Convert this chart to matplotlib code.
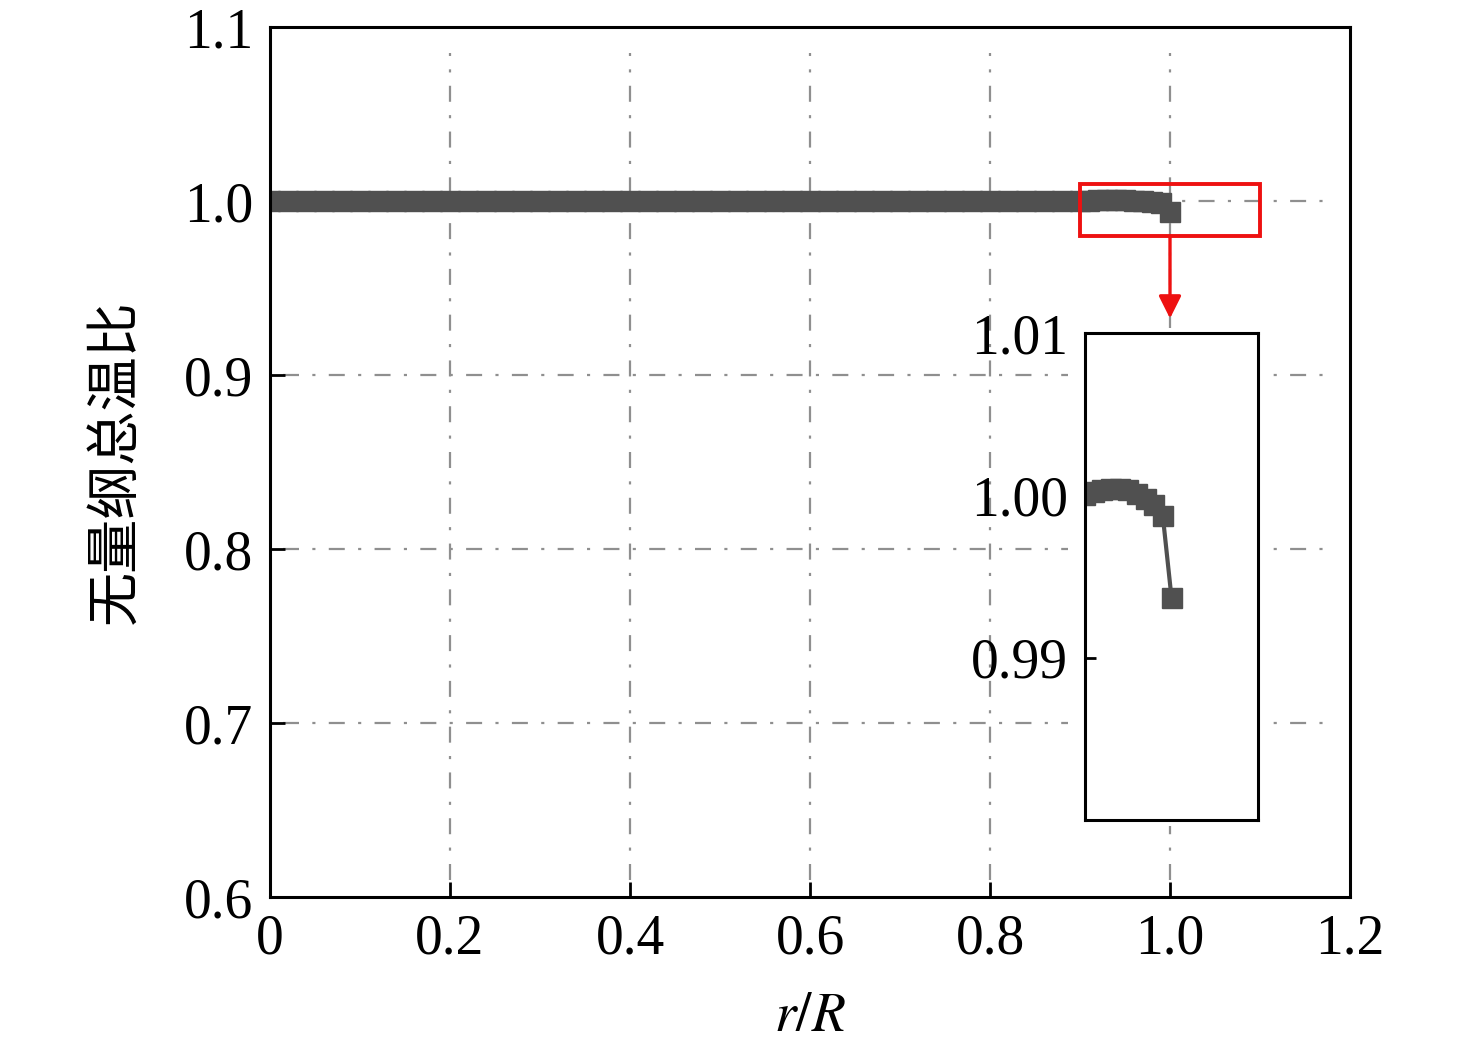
import matplotlib
matplotlib.use("Agg")
import matplotlib.pyplot as plt
from matplotlib.patches import Rectangle, FancyArrowPatch

plt.rcParams['font.family'] = ['Liberation Serif', 'DejaVu Serif']
plt.rcParams['mathtext.fontset'] = 'stix'

# ---- data ----
r_flat = [0.00, 0.02, 0.04, 0.06, 0.08, 0.10, 0.12, 0.14, 0.16, 0.18,
          0.20, 0.22, 0.24, 0.26, 0.28, 0.30, 0.32, 0.34, 0.36, 0.38,
          0.40, 0.42, 0.44, 0.46, 0.48, 0.50, 0.52, 0.54, 0.56, 0.58,
          0.60, 0.62, 0.64, 0.66, 0.68, 0.70, 0.72, 0.74, 0.76, 0.78,
          0.80, 0.82, 0.84, 0.86, 0.88]
t_flat = [1.0000] * len(r_flat)
r_wall = [0.90, 0.91, 0.92, 0.93, 0.94, 0.95, 0.96, 0.97, 0.98, 0.99, 1.00]
t_wall = [1.0000, 1.0002, 1.0003, 1.0004, 1.0004, 1.0003, 1.0001, 0.9998,
          0.9994, 0.9987, 0.9937]
r_all = r_flat + r_wall
t_all = t_flat + t_wall

x_ticks = [0, 0.2, 0.4, 0.6, 0.8, 1.0, 1.2]
x_labels = ['0', '0.2', '0.4', '0.6', '0.8', '1.0', '1.2']
y_ticks = [0.6, 0.7, 0.8, 0.9, 1.0, 1.1]
y_labels = ['0.6', '0.7', '0.8', '0.9', '1.0', '1.1']
inset_y_ticks = [0.99, 1.00, 1.01]
inset_y_labels = ['0.99', '1.00', '1.01']

W, H = 1476, 1051
fig = plt.figure(figsize=(W / 100, H / 100), dpi=100)
ax = fig.add_axes([270 / W, 1 - 897 / H, 1080 / W, 870 / H])

col = '#505050'
grid_col = '#8f8f8f'
grid_ls = (0, (7.2, 6.0, 1.4, 6.0))
ax.plot(r_all, t_all, color=col, lw=3, marker='s', ms=14.5, mec=col, mfc=col,
        zorder=3)

ax.set_xlim(0, 1.2)
ax.set_ylim(0.6, 1.1)
ax.set_xticks(x_ticks)
ax.set_xticklabels(x_labels)
ax.set_yticks(y_ticks)
ax.set_yticklabels(y_labels)
ax.tick_params(direction='in', length=11, width=2, labelsize=40, pad=12)
for s in ax.spines.values():
    s.set_linewidth(2.2)
    s.set_zorder(5)

for gx in [0.2, 0.4, 0.6, 0.8, 1.0]:
    ax.axvline(gx, ymin=0.02, ymax=0.97, color=grid_col, lw=1.6, ls=grid_ls, zorder=1)
for gy in [0.7, 0.8, 0.9, 1.0]:
    ax.axhline(gy, xmin=0.012, xmax=0.981, color=grid_col, lw=1.6, ls=grid_ls, zorder=1)

ax.set_xlabel(r'$r/R$', fontsize=40, labelpad=18)
ax.set_ylabel('无量纲总温比', fontsize=39, family=['Noto Sans CJK SC', 'DejaVu Sans'],
              labelpad=30)

# white backdrop behind inset
ax.add_patch(Rectangle((1068 / W, 1 - 826 / H), (1266 - 1068) / W, (826 - 328) / H,
                       transform=fig.transFigure, facecolor='white', edgecolor='none',
                       zorder=2))

# red zoom box and arrow
ax.add_patch(Rectangle((0.9, 0.98), 0.2, 0.03, facecolor='none', edgecolor='#ee1111',
                       lw=2.8, zorder=4, clip_on=False))
ax.add_patch(FancyArrowPatch((1.0, 0.98), (1.0, 0.9325), arrowstyle='-|>',
                             mutation_scale=34, color='#ee1111', lw=2.4, zorder=4,
                             shrinkA=0, shrinkB=0))

# inset
axin = fig.add_axes([1085 / W, 1 - 820 / H, 173 / W, 487 / H])
axin.set_facecolor('white')
axin.plot(r_all, t_all, color=col, lw=3, marker='s', ms=14.5, mec=col, mfc=col)
axin.set_xlim(0.9, 1.1)
axin.set_ylim(0.98, 1.01)
axin.set_xticks([])
axin.set_yticks(inset_y_ticks)
axin.set_yticklabels(inset_y_labels)
axin.tick_params(direction='in', length=8, width=2, labelsize=40, pad=12)
for s in axin.spines.values():
    s.set_linewidth(2.2)

fig.savefig('out.png', dpi=100)
